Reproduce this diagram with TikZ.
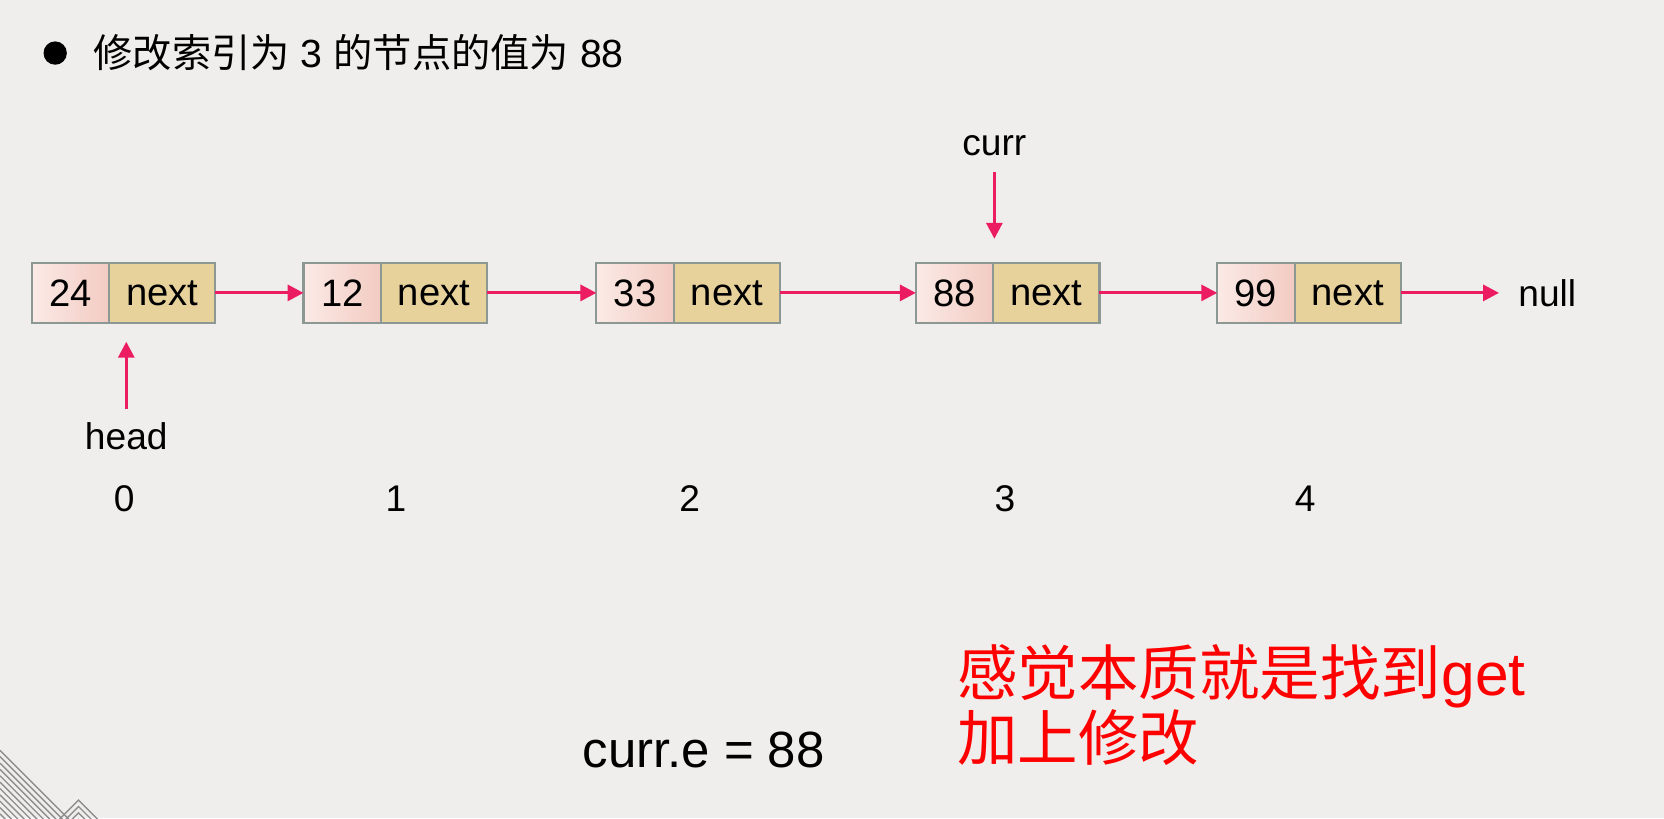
\documentclass[tikz,border=0pt]{standalone}
\usepackage{fontspec}
\setmainfont{Liberation Sans}
\newfontfamily\cjk{Noto Sans CJK SC}
\usetikzlibrary{arrows.meta}

\definecolor{bgcol}{HTML}{EFEEEC}
\definecolor{cellline}{HTML}{8C9893}
\definecolor{valleft}{HTML}{FBEAE6}
\definecolor{valright}{HTML}{F2CBC2}
\definecolor{nextfill}{HTML}{E8D29C}
\definecolor{ptrcol}{HTML}{EC1C63}
\definecolor{hatchcol}{HTML}{8E8E8E}

\tikzset{
  valcell/.style={draw=cellline, line width=2pt, left color=valleft, right color=valright, outer sep=0pt,
    minimum width=73pt, minimum height=57pt, inner sep=0pt, font=\fontsize{36}{43}\selectfont},
  nextcell/.style={draw=cellline, line width=2pt, fill=nextfill, outer sep=0pt,
    minimum width=100pt, minimum height=57pt, inner sep=0pt, font=\fontsize{36}{43}\selectfont},
  ptr/.style={draw=ptrcol, line width=3pt, -{Triangle[length=15pt,width=15pt]}},
  lbl/.style={inner sep=0pt, font=\fontsize{35}{42}\selectfont},
}

\begin{document}
\begin{tikzpicture}
    [x=1pt,y=-1pt]

    % background:
    \path [use as bounding box, fill=bgcol] (0,0) rectangle (1568,771);
    \begin{scope}
      \clip (0,0) rectangle (1568,771);
      \foreach \k in {0,...,10}
        \draw [hatchcol, line width=1.3pt] (0,707+6*\k) -- ++(80,80);
      \foreach \k in {0,...,4}
        \draw [hatchcol, line width=1.3pt] (44,784+6*\k) -- (74,754+6*\k) -- (104,784+6*\k);
    \end{scope}

    % title:
    \node (dot) at (52,50) [circle, fill=black, minimum size=22pt, inner sep=0pt] {};
    \node (title) at (88,50) [anchor=west, inner sep=0pt, font=\fontsize{37}{44}\selectfont]
      {{\cjk 修改索引为} 3 {\cjk 的节点的值为} 88};

    % list nodes:
    \node (v0) at (30,276) [valcell, anchor=west] {24};
    \node (n0) at (v0.east) [nextcell, anchor=west] {next};
    \node (v1) at (286,276) [valcell, anchor=west] {12};
    \node (n1) at (v1.east) [nextcell, anchor=west] {next};
    \node (v2) at (562,276) [valcell, anchor=west] {33};
    \node (n2) at (v2.east) [nextcell, anchor=west] {next};
    \node (v3) at (863,276) [valcell, anchor=west] {88};
    \node (n3) at (v3.east) [nextcell, anchor=west] {next};
    \node (v4) at (1147,276) [valcell, anchor=west] {99};
    \node (n4) at (v4.east) [nextcell, anchor=west] {next};

    % end of list:
    \node (null) at (1458,276) [lbl] {null};

    % pointers:
    \node (curr) at (937,137) [lbl] {curr};
    \coordinate (currtip) at (937,225);
    \node (head) at (119,411) [lbl] {head};
    \coordinate (headtip) at (119,322);

    % indices:
    \node (i0) at (117,470) [lbl] {0};
    \node (i1) at (373,470) [lbl] {1};
    \node (i2) at (650,470) [lbl] {2};
    \node (i3) at (947,470) [lbl] {3};
    \node (i4) at (1230,470) [lbl] {4};

    % code and note:
    \node (code) at (663,707) [inner sep=0pt, font=\fontsize{48}{58}\selectfont] {curr.e = 88};
    \node (note1) at (902,655) [anchor=base west, inner sep=0pt, text=red, font=\fontsize{57}{62}\selectfont]
      {{\cjk 感觉本质就是找到}get};
    \node (note2) at (902,717) [anchor=base west, inner sep=0pt, text=red, font=\fontsize{57}{62}\selectfont]
      {\cjk 加上修改};

    % connect nodes:
    \draw [ptr] (n0) to (v1);
    \draw [ptr] (n1) to (v2);
    \draw [ptr] (n2) to (v3);
    \draw [ptr] (n3) to (v4);
    \draw [ptr, shorten >=18pt] (n4) to (null);
    \draw [ptr, shorten <=15pt] (curr) to (currtip);
    \draw [ptr, shorten <=13pt] (head) to (headtip);

  \end{tikzpicture}
\end{document}
